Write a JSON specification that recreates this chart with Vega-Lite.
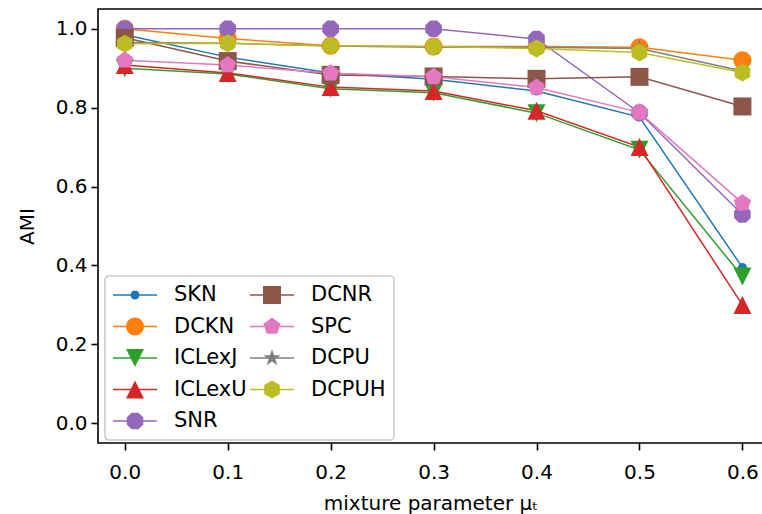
{
  "$schema": "https://vega.github.io/schema/vega-lite/v6.json",
  "autosize": {"type": "none"},
  "padding": {"left": 98, "top": 9, "right": -1, "bottom": 71},
  "width": 665,
  "height": 434,
  "background": "white",
  "config": {
    "font": "DejaVu Sans",
    "view": {"stroke": "black", "strokeWidth": 1.6},
    "axis": {"domain": false, "tickColor": "black", "tickWidth": 1.6, "tickSize": 7, "labelFontSize": 20, "labelColor": "black", "titleFontSize": 20, "titleFontWeight": "normal", "titleColor": "black", "grid": false, "labelFont": "DejaVu Sans", "titleFont": "DejaVu Sans"},
    "legend": {"orient": "none", "legendX": 7, "legendY": 267, "columns": 2, "symbolSize": 1936, "clipHeight": 22, "symbolStrokeWidth": 0, "labelFont": "DejaVu Sans", "labelFontSize": 21, "labelColor": "black", "labelOffset": 17, "rowPadding": 9.5, "columnPadding": 3, "padding": 8, "strokeColor": "#cccccc", "strokeWidth": 1.6, "fillColor": "rgba(255,255,255,0.8)", "cornerRadius": 4, "titleFontSize": 0}
  },
  "data": {"values": [
    {"mu": 0.0, "method": "SKN", "ami": 0.985}, {"mu": 0.1, "method": "SKN", "ami": 0.928}, {"mu": 0.2, "method": "SKN", "ami": 0.888}, {"mu": 0.3, "method": "SKN", "ami": 0.872}, {"mu": 0.4, "method": "SKN", "ami": 0.842}, {"mu": 0.5, "method": "SKN", "ami": 0.776}, {"mu": 0.6, "method": "SKN", "ami": 0.395},
    {"mu": 0.0, "method": "DCKN", "ami": 1.0}, {"mu": 0.1, "method": "DCKN", "ami": 0.975}, {"mu": 0.2, "method": "DCKN", "ami": 0.957}, {"mu": 0.3, "method": "DCKN", "ami": 0.955}, {"mu": 0.4, "method": "DCKN", "ami": 0.955}, {"mu": 0.5, "method": "DCKN", "ami": 0.953}, {"mu": 0.6, "method": "DCKN", "ami": 0.92},
    {"mu": 0.0, "method": "ICLexJ", "ami": 0.9}, {"mu": 0.1, "method": "ICLexJ", "ami": 0.885}, {"mu": 0.2, "method": "ICLexJ", "ami": 0.848}, {"mu": 0.3, "method": "ICLexJ", "ami": 0.838}, {"mu": 0.4, "method": "ICLexJ", "ami": 0.786}, {"mu": 0.5, "method": "ICLexJ", "ami": 0.693}, {"mu": 0.6, "method": "ICLexJ", "ami": 0.372},
    {"mu": 0.0, "method": "ICLexU", "ami": 0.908}, {"mu": 0.1, "method": "ICLexU", "ami": 0.888}, {"mu": 0.2, "method": "ICLexU", "ami": 0.852}, {"mu": 0.3, "method": "ICLexU", "ami": 0.842}, {"mu": 0.4, "method": "ICLexU", "ami": 0.792}, {"mu": 0.5, "method": "ICLexU", "ami": 0.7}, {"mu": 0.6, "method": "ICLexU", "ami": 0.3},
    {"mu": 0.0, "method": "SNR", "ami": 1.0}, {"mu": 0.1, "method": "SNR", "ami": 1.0}, {"mu": 0.2, "method": "SNR", "ami": 1.0}, {"mu": 0.3, "method": "SNR", "ami": 1.0}, {"mu": 0.4, "method": "SNR", "ami": 0.974}, {"mu": 0.5, "method": "SNR", "ami": 0.787}, {"mu": 0.6, "method": "SNR", "ami": 0.529},
    {"mu": 0.0, "method": "DCNR", "ami": 0.977}, {"mu": 0.1, "method": "DCNR", "ami": 0.918}, {"mu": 0.2, "method": "DCNR", "ami": 0.883}, {"mu": 0.3, "method": "DCNR", "ami": 0.879}, {"mu": 0.4, "method": "DCNR", "ami": 0.873}, {"mu": 0.5, "method": "DCNR", "ami": 0.878}, {"mu": 0.6, "method": "DCNR", "ami": 0.803},
    {"mu": 0.0, "method": "SPC", "ami": 0.92}, {"mu": 0.1, "method": "SPC", "ami": 0.908}, {"mu": 0.2, "method": "SPC", "ami": 0.887}, {"mu": 0.3, "method": "SPC", "ami": 0.878}, {"mu": 0.4, "method": "SPC", "ami": 0.851}, {"mu": 0.5, "method": "SPC", "ami": 0.788}, {"mu": 0.6, "method": "SPC", "ami": 0.558},
    {"mu": 0.0, "method": "DCPU", "ami": 0.965}, {"mu": 0.1, "method": "DCPU", "ami": 0.963}, {"mu": 0.2, "method": "DCPU", "ami": 0.956}, {"mu": 0.3, "method": "DCPU", "ami": 0.953}, {"mu": 0.4, "method": "DCPU", "ami": 0.953}, {"mu": 0.5, "method": "DCPU", "ami": 0.95}, {"mu": 0.6, "method": "DCPU", "ami": 0.893},
    {"mu": 0.0, "method": "DCPUH", "ami": 0.962}, {"mu": 0.1, "method": "DCPUH", "ami": 0.963}, {"mu": 0.2, "method": "DCPUH", "ami": 0.957}, {"mu": 0.3, "method": "DCPUH", "ami": 0.955}, {"mu": 0.4, "method": "DCPUH", "ami": 0.95}, {"mu": 0.5, "method": "DCPUH", "ami": 0.94}, {"mu": 0.6, "method": "DCPUH", "ami": 0.889}
  ]},
  "resolve": {"scale": {"color": "independent", "shape": "independent"}},
  "layer": [
    {
      "mark": {"type": "line", "strokeWidth": 1.5},
      "encoding": {
        "x": {"field": "mu", "type": "quantitative", "scale": {"domain": [-0.026, 0.62], "nice": false, "zero": false}, "axis": {"values": [0, 0.1, 0.2, 0.3, 0.4, 0.5, 0.6], "format": ".1f", "title": "mixture parameter μₜ", "labelPadding": 12, "titlePadding": 11}},
        "y": {"field": "ami", "type": "quantitative", "scale": {"domain": [-0.05, 1.05], "nice": false, "zero": false}, "axis": {"values": [0, 0.2, 0.4, 0.6, 0.8, 1.0], "format": ".1f", "title": "AMI", "labelPadding": 4, "titlePadding": 18}},
        "color": {"field": "method", "type": "nominal", "scale": {"domain": ["SKN", "DCKN", "ICLexJ", "ICLexU", "SNR", "DCNR", "SPC", "DCPU", "DCPUH"], "range": ["#1f77b4", "#ff7f0e", "#2ca02c", "#d62728", "#9467bd", "#8c564b", "#e377c2", "#7f7f7f", "#bcbd22"]}, "legend": null}
      }
    },
    {
      "mark": {"type": "point", "filled": true, "opacity": 1, "size": 324, "strokeWidth": 0},
      "encoding": {
        "x": {"field": "mu", "type": "quantitative"},
        "y": {"field": "ami", "type": "quantitative"},
        "color": {"field": "method", "type": "nominal", "scale": {"domain": ["SKN", "DCKN", "ICLexJ", "ICLexU", "SNR", "DCNR", "SPC", "DCPU", "DCPUH"], "range": ["#1f77b4", "#ff7f0e", "#2ca02c", "#d62728", "#9467bd", "#8c564b", "#e377c2", "#7f7f7f", "#bcbd22"]}, "legend": null},
        "shape": {"field": "method", "type": "nominal", "legend": null, "scale": {"domain": ["SKN", "DCKN", "ICLexJ", "ICLexU", "SNR", "DCNR", "SPC", "DCPU", "DCPUH"], "range": [
          "M0.5,0A0.5,0.5,0,1,1,-0.5,0A0.5,0.5,0,1,1,0.5,0Z",
          "M1,0A1,1,0,1,1,-1,0A1,1,0,1,1,1,0Z",
          "M0,1L-1,-1L1,-1Z",
          "M0,-1L1,1L-1,1Z",
          "M0.924,0.383L0.383,0.924L-0.383,0.924L-0.924,0.383L-0.924,-0.383L-0.383,-0.924L0.383,-0.924L0.924,-0.383Z",
          "M-1,-1H1V1H-1Z",
          "M0,-1L0.951,-0.309L0.588,0.809L-0.588,0.809L-0.951,-0.309Z",
          "M0,-1L0.2245,-0.309L0.951,-0.309L0.3633,0.118L0.588,0.809L0,0.382L-0.588,0.809L-0.3633,0.118L-0.951,-0.309L-0.2245,-0.309Z",
          "M0,-1L0.866,-0.5L0.866,0.5L0,1L-0.866,0.5L-0.866,-0.5Z"
        ]}}
      }
    },
    {
      "mark": {"type": "point", "filled": true, "opacity": 0},
      "encoding": {
        "x": {"field": "mu", "type": "quantitative"},
        "y": {"field": "ami", "type": "quantitative"},
        "color": {"field": "method", "type": "nominal", "scale": {"domain": ["SKN", "DCKN", "ICLexJ", "ICLexU", "SNR", "DCNR", "SPC", "DCPU", "DCPUH"], "range": ["#1f77b4", "#ff7f0e", "#2ca02c", "#d62728", "#9467bd", "#8c564b", "#e377c2", "#7f7f7f", "#bcbd22"]}, "legend": {"title": null, "encode": {"symbols": {"update": {"opacity": {"value": 1}}}}}},
        "shape": {"field": "method", "type": "nominal", "legend": {"title": null, "encode": {"symbols": {"update": {"opacity": {"value": 1}}}}}, "scale": {"domain": ["SKN", "DCKN", "ICLexJ", "ICLexU", "SNR", "DCNR", "SPC", "DCPU", "DCPUH"], "range": [
          "M-1,-0.034H1V0.034H-1ZM0.2045,0A0.2045,0.2045,0,1,1,-0.2045,0A0.2045,0.2045,0,1,1,0.2045,0Z",
          "M-1,-0.034H1V0.034H-1ZM0.409,0A0.409,0.409,0,1,1,-0.409,0A0.409,0.409,0,1,1,0.409,0Z",
          "M-1,-0.034H1V0.034H-1ZM0,0.409L-0.409,-0.409L0.409,-0.409Z",
          "M-1,-0.034H1V0.034H-1ZM0,-0.409L0.409,0.409L-0.409,0.409Z",
          "M-1,-0.034H1V0.034H-1ZM0.378,0.157L0.157,0.378L-0.157,0.378L-0.378,0.157L-0.378,-0.157L-0.157,-0.378L0.157,-0.378L0.378,-0.157Z",
          "M-1,-0.034H1V0.034H-1ZM-0.409,-0.409H0.409V0.409H-0.409Z",
          "M-1,-0.034H1V0.034H-1ZM0,-0.409L0.389,-0.126L0.24,0.331L-0.24,0.331L-0.389,-0.126Z",
          "M-1,-0.034H1V0.034H-1ZM0,-0.409L0.0918,-0.126L0.389,-0.126L0.1486,0.0483L0.24,0.331L0,0.156L-0.24,0.331L-0.1486,0.0483L-0.389,-0.126L-0.0918,-0.126Z",
          "M-1,-0.034H1V0.034H-1ZM0,-0.409L0.354,-0.2045L0.354,0.2045L0,0.409L-0.354,0.2045L-0.354,-0.2045Z"
        ]}}
      }
    }
  ]
}
